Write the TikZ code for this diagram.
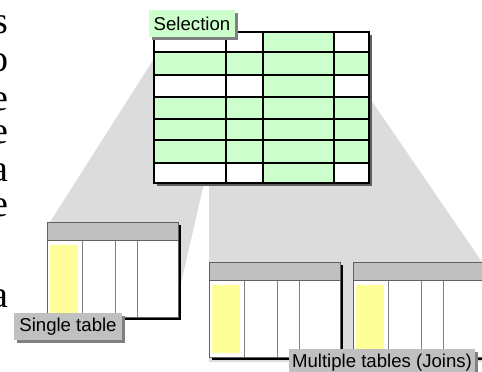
\documentclass[tikz,border=0pt]{standalone}
\usepackage{fontspec}
\setmainfont{Liberation Serif}
\setsansfont{Liberation Sans}
\usetikzlibrary{shadows}
\definecolor{selgreen}{HTML}{CCFFCC}
\definecolor{keyyellow}{HTML}{FFFF99}
\definecolor{headgray}{HTML}{C0C0C0}
\definecolor{funnelgray}{HTML}{DCDCDC}
\definecolor{shadowgray}{HTML}{808080}
\definecolor{darkshade}{HTML}{606060}

\begin{document}
\begin{tikzpicture}[x=1pt, y=-1pt,
    tag/.style={font=\sffamily\fontsize{18.6}{18.6}\selectfont, inner sep=0pt, minimum height=27pt,
      drop shadow={shadow xshift=3pt, shadow yshift=-3pt, opacity=1, fill=shadowgray}},
    frag/.style={font=\fontsize{38}{38}\selectfont, inner sep=0pt, anchor=base east},
    cellrule/.style={black, line width=1.4pt},
    colrule/.style={gray, line width=0.9pt},
    edge/.style={darkshade, line width=0.9pt}]
  \useasboundingbox (0,0) rectangle (482,372);
  \clip (0,0) rectangle (482,372);

  % Cut-off text on the left margin
  \foreach \y/\c/\i in {33/s/1, 71/o/2, 110/e/3, 143/e/4, 181/a/5, 216/e/6, 307/a/7}
    \node[frag] (frag\i) at (8.5,\y) {\c};

  % Funnels from the selection down to the tables
  \fill[funnelgray] (155,57) -- (204,183) -- (173,318) -- (47,318) -- (50,222) -- cycle;
  \fill[funnelgray] (209,183) -- (369,97) -- (482,262) -- (482,362) -- (209,362) -- cycle;

  % Selection table
  \fill[darkshade] (157,35) rectangle (372,186);
  \fill[white] (154,32) rectangle (369,183);
  \fill[selgreen] (263,32) rectangle (334,183);
  \foreach \ya/\yb in {52/75, 97/163}
    \fill[selgreen] (154,\ya) rectangle (369,\yb);
  \foreach \y in {52,75,97,119,140,163}
    \draw[cellrule] (154,\y) -- (369,\y);
  \foreach \x in {226,263,334}
    \draw[cellrule] (\x,32) -- (\x,183);
  \draw[cellrule] (154,32) rectangle (369,183);

  % Source tables (single, and two for the join)
  \foreach \tx/\ty in {47/222, 209/262, 353/262} {
    \begin{scope}[shift={(\tx,\ty)}]
      \fill[black] (3,3) rectangle (134,98);
      \fill[white] (0,0) rectangle (131,95);
      \fill[headgray] (0,0) rectangle (131,18);
      \fill[keyyellow] (3,23) rectangle (31,91);
      \foreach \c in {35,68,90}
        \draw[colrule] (\c,18) -- (\c,95);
      \draw[edge] (0,18) -- (131,18);
      \draw[edge] (0,0) rectangle (131,95);
    \end{scope}
  }

  % Labels
  \node[tag, fill=selgreen, minimum width=86pt] (selection) at (192,23.5) {Selection};
  \node[tag, fill=headgray, minimum width=108pt] (single) at (68,326.5) {Single table};
  \node[tag, fill=headgray, minimum width=186pt] (joins) at (382,362.5) {Multiple tables (Joins)};
\end{tikzpicture}
\end{document}
